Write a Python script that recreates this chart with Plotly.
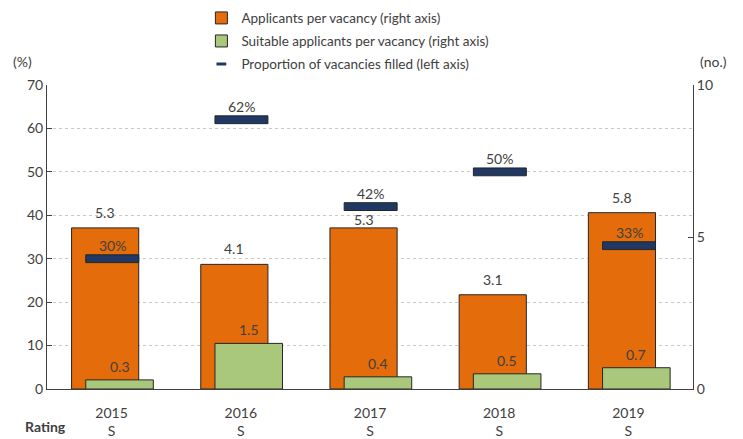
import plotly.graph_objects as go

years = ["2015", "2016", "2017", "2018", "2019"]
ratings = ["S", "S", "S", "S", "S"]
applicants = [5.3, 4.1, 5.3, 3.1, 5.8]
suitable = [0.3, 1.5, 0.4, 0.5, 0.7]
filled_pct = [30, 62, 42, 50, 33]

ORANGE = "#E46C0A"
GREEN = "#A9C87C"
NAVY = "#1F3864"
EDGE = "#262626"
TXT = "#404040"
FONT = "Lato"
FS = 14

# bar geometry (category units)
OR_OFF, OR_W = -0.31, 0.52
GR_OFF, GR_W = -0.20, 0.523
BL_OFF, BL_W = -0.20, 0.41
BL_H = 1.8  # marker thickness in % units
orange_nudge = [0, 0, -7, 0, 0]

xs = list(range(len(years)))

fig = go.Figure()
# right axis (no.) = "y", left axis (%) = "y2" overlaying, so markers draw on top
fig.add_trace(go.Bar(
    x=xs, y=applicants, offset=OR_OFF, width=OR_W, yaxis="y",
    marker=dict(color=ORANGE, line=dict(color=EDGE, width=1)),
    name="Applicants per vacancy (right axis)", legendgroup="a", legendrank=1,
    hoverinfo="skip"))
fig.add_trace(go.Bar(
    x=xs, y=suitable, offset=GR_OFF, width=GR_W, yaxis="y",
    marker=dict(color=GREEN, line=dict(color=EDGE, width=1)),
    name="Suitable applicants per vacancy (right axis)", legendgroup="b", legendrank=2,
    hoverinfo="skip"))
fig.add_trace(go.Bar(
    x=xs, y=[BL_H] * len(xs), base=[v - BL_H / 2 for v in filled_pct],
    offset=BL_OFF, width=BL_W, yaxis="y2",
    marker=dict(color=NAVY, line=dict(color=EDGE, width=1)),
    showlegend=False, hoverinfo="skip"))
fig.add_trace(go.Scatter(
    x=[None], y=[None], mode="markers", yaxis="y2",
    marker=dict(symbol="line-ew", size=7, color=NAVY, line=dict(color=NAVY, width=3)),
    name="Proportion of vacancies filled (left axis)", legendgroup="c", legendrank=3))

tf = dict(family=FONT, size=FS, color=TXT)
ann = []
for i, v in enumerate(applicants):
    ann.append(dict(x=i + OR_OFF + OR_W / 2, y=v, yref="y", xref="x", text=f"{v:.1f}",
                    showarrow=False, yanchor="bottom", yshift=5 + orange_nudge[i], font=tf))
for i, v in enumerate(suitable):
    ann.append(dict(x=i + GR_OFF + GR_W / 2, y=v, yref="y", xref="x", text=f"{v:.1f}",
                    showarrow=False, yanchor="bottom", yshift=3, font=tf))
for i, v in enumerate(filled_pct):
    ann.append(dict(x=i + BL_OFF + BL_W / 2, y=v + BL_H / 2, yref="y2", xref="x", text=f"{v}%",
                    showarrow=False, yanchor="bottom", yshift=-1, font=tf))
ann += [
    dict(x=-0.038, y=1.0, xref="paper", yref="paper", text="(%)", showarrow=False,
         xanchor="center", yanchor="bottom", yshift=13, font=tf),
    dict(x=1.0325, y=1.0, xref="paper", yref="paper", text="(no.)", showarrow=False,
         xanchor="center", yanchor="bottom", yshift=13, font=tf),
    dict(x=-0.003, y=0, xref="paper", yref="paper", text="<b>Rating</b>", showarrow=False,
         xanchor="center", yanchor="top", yshift=-27, font=tf),
]

fig.update_layout(
    width=743, height=439,
    margin=dict(l=47, r=50, t=85, b=50, autoexpand=False),
    paper_bgcolor="white", plot_bgcolor="white",
    barmode="overlay",
    font=tf,
    showlegend=True,
    legend=dict(x=0.239, y=0.994, xref="paper", yref="container", xanchor="left", yanchor="top",
                orientation="v", traceorder="grouped", tracegroupgap=2.5,
                font=dict(family=FONT, size=13.5, color=TXT), itemwidth=30,
                bgcolor="rgba(0,0,0,0)"),
    xaxis=dict(range=[-0.5, len(xs) - 0.5], tickvals=xs,
               ticktext=[f"{y}<br>{r}" for y, r in zip(years, ratings)],
               showline=True, linecolor=TXT, linewidth=1, ticks="", showgrid=False,
               zeroline=False, ticklabelstandoff=11),
    yaxis2=dict(range=[0, 70], dtick=10, overlaying="y", side="left",
                showline=True, linecolor=TXT, linewidth=1,
                ticks="inside", ticklen=5, tickcolor=TXT, showgrid=True,
                gridcolor="#C8C8C8", griddash="dot", gridwidth=1, zeroline=False),
    yaxis=dict(range=[0, 10], tickvals=[0, 5, 10], side="right",
               showline=True, linecolor=TXT, linewidth=1, ticks="inside", ticklen=5,
               tickcolor=TXT, showgrid=False, zeroline=False),
    annotations=ann,
)

fig.write_html("out.html", config={"displayModeBar": False},
               post_script="document.body.style.margin='0';")
